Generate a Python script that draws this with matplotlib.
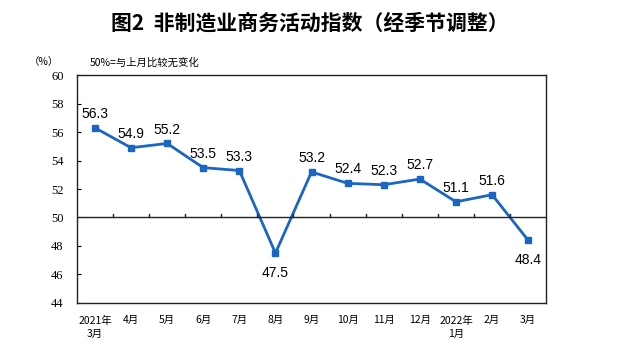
import matplotlib.pyplot as plt

plt.rcParams['font.family'] = ['Noto Sans CJK SC', 'DejaVu Sans']

months = ['2021年\n3月', '4月', '5月', '6月', '7月', '8月', '9月', '10月', '11月',
          '12月', '2022年\n1月', '2月', '3月']
values = [56.3, 54.9, 55.2, 53.5, 53.3, 47.5, 53.2, 52.4, 52.3, 52.7, 51.1, 51.6, 48.4]
below = [False, False, False, False, False, True, False, False, False, False, False, False, True]

fig = plt.figure(figsize=(6.2, 3.51), dpi=100)
ax = fig.add_axes([0.124, 0.137, 0.757, 0.649])

x = list(range(len(values)))
ax.plot(x, values, color='#1a66c2', linewidth=2, marker='s', markersize=4)

for xi, v, b in zip(x, values, below):
    if b:
        ax.annotate(f'{v:.1f}', (xi, v), xytext=(0, -9), textcoords='offset points',
                    ha='center', va='top', fontsize=10, family='Liberation Sans')
    else:
        ax.annotate(f'{v:.1f}', (xi, v), xytext=(0, 5), textcoords='offset points',
                    ha='center', va='bottom', fontsize=10, family='Liberation Sans')

ax.set_xlim(-0.5, len(values) - 0.5)
ax.set_ylim(44, 60)
ax.set_yticks(range(44, 61, 2))
ax.tick_params(axis='y', direction='in', length=3, labelsize=9, pad=14)
for lab in ax.get_yticklabels():
    lab.set_family('Liberation Serif')
    lab.set_horizontalalignment('center')

# 50 line with ticks between months
ax.axhline(50, color='#222222', linewidth=1)
for b in range(1, len(values)):
    ax.plot([b - 0.5, b - 0.5], [50, 50.25], color='#222222', linewidth=1)

ax.set_xticks(x)
ax.set_xticklabels(months, fontsize=7.5, va='top', linespacing=1.4)
ax.tick_params(axis='x', length=0, pad=9)

for s in ax.spines.values():
    s.set_color('#222222')
    s.set_linewidth(1)

fig.text(0.5, 0.935, '图2  非制造业商务活动指数（经季节调整）', ha='center', va='center',
         fontsize=15, fontweight='bold')
fig.text(0.07, 0.822, '（%）', ha='center', va='center', fontsize=7.5)
fig.text(0.145, 0.822, '50%=与上月比较无变化', ha='left', va='center', fontsize=7.5)

fig.savefig('out.png', dpi=100)
